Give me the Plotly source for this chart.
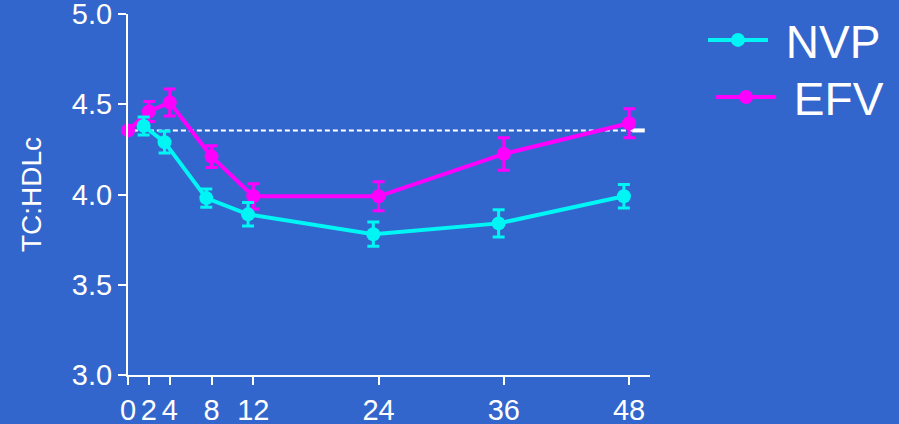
import plotly.graph_objects as go

# Data
nvp_weeks = [1.5, 3.5, 7.5, 11.5, 23.5, 35.5, 47.5]
nvp_vals = [4.38, 4.29, 3.98, 3.89, 3.78, 3.84, 3.99]
nvp_err = [0.05, 0.06, 0.05, 0.065, 0.067, 0.075, 0.065]

efv_weeks = [0, 2, 4, 8, 12, 24, 36, 48]
efv_vals = [4.355, 4.46, 4.51, 4.21, 3.99, 3.99, 4.225, 4.395]
efv_err = [0.0, 0.055, 0.075, 0.06, 0.07, 0.08, 0.09, 0.08]

baseline = 4.355
x_ticks = [0, 2, 4, 8, 12, 24, 36, 48]
y_ticks = [3.0, 3.5, 4.0, 4.5, 5.0]

BG = "rgb(51,102,204)"
CYAN = "rgb(0,245,245)"
MAG = "rgb(255,0,255)"
FONT = "Arial, Liberation Sans, sans-serif"

fig = go.Figure()

fig.add_trace(go.Scatter(
    x=efv_weeks, y=efv_vals, name="\u00a0EFV", mode="lines+markers",
    line=dict(color=MAG, width=4), marker=dict(color=MAG, size=14),
    error_y=dict(type="data", array=efv_err, color=MAG, thickness=3, width=6),
    cliponaxis=False, legend="legend2",
))
fig.add_trace(go.Scatter(
    x=nvp_weeks, y=nvp_vals, name="\u00a0NVP", mode="lines+markers",
    line=dict(color=CYAN, width=4), marker=dict(color=CYAN, size=14),
    error_y=dict(type="data", array=nvp_err, color=CYAN, thickness=3, width=6),
    cliponaxis=False, legend="legend",
))

fig.add_shape(type="line", xref="x", yref="y", x0=-0.3, x1=48.3, y0=baseline, y1=baseline,
              line=dict(color="white", width=2, dash="5px,3px"), layer="below")
fig.add_shape(type="line", xref="x", yref="y", x0=48.3, x1=49.5, y0=baseline, y1=baseline,
              line=dict(color="white", width=4), layer="below")

leg_common = dict(xanchor="left", yanchor="middle", font=dict(size=46, color="white"),
                  bgcolor="rgba(0,0,0,0)", itemwidth=60)
fig.update_layout(
    width=899, height=424,
    paper_bgcolor=BG, plot_bgcolor=BG,
    margin=dict(l=128, r=249, t=14, b=49, autoexpand=False),
    font=dict(family=FONT, color="white", size=29),
    showlegend=True,
    legend=dict(x=1.1015, y=0.928, **leg_common),
    legend2=dict(x=1.117, y=0.770, **leg_common),
)
fig.update_xaxes(range=[0, 50], tickvals=x_ticks, ticktext=[str(t) for t in x_ticks],
                 showgrid=False, zeroline=False, showline=True, linecolor="white", linewidth=2,
                 ticks="outside", ticklen=8, tickwidth=2, tickcolor="white",
                 tickfont=dict(size=29, color="white"), automargin=False,
                 ticklabeloverflow="allow")
fig.update_yaxes(range=[3.0, 5.0], tickvals=y_ticks, ticktext=[f"{t:.1f}" for t in y_ticks],
                 showgrid=False, zeroline=False, showline=True, linecolor="white", linewidth=2,
                 ticks="outside", ticklen=8, tickwidth=2, tickcolor="white",
                 tickfont=dict(size=29, color="white"), automargin=False,
                 ticklabeloverflow="allow",
                 title=dict(text="TC:HDLc", font=dict(size=28, color="white"), standoff=22))

fig.write_html("out.html")
